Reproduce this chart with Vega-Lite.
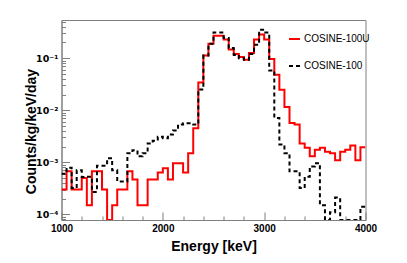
{
  "$schema": "https://vega.github.io/schema/vega-lite/v6.json",
  "width": 304,
  "height": 200,
  "autosize": "none",
  "padding": {"left": 61.5, "top": 20, "right": 41.5, "bottom": 43},
  "background": "white",
  "config": {
    "view": {"stroke": "#808080", "strokeWidth": 1},
    "font": "Liberation Sans"
  },
  "datasets": {
    "h": [
      {"series": "COSINE-100U", "E": 1000, "v": 0.0003},
      {"series": "COSINE-100U", "E": 1050, "v": 0.00067},
      {"series": "COSINE-100U", "E": 1100, "v": 0.0003},
      {"series": "COSINE-100U", "E": 1150, "v": 0.0003},
      {"series": "COSINE-100U", "E": 1200, "v": 0.0005},
      {"series": "COSINE-100U", "E": 1250, "v": 0.00015},
      {"series": "COSINE-100U", "E": 1300, "v": 0.00067},
      {"series": "COSINE-100U", "E": 1350, "v": 0.00067},
      {"series": "COSINE-100U", "E": 1400, "v": 0.0003},
      {"series": "COSINE-100U", "E": 1450, "v": 0.00001},
      {"series": "COSINE-100U", "E": 1500, "v": 0.00015},
      {"series": "COSINE-100U", "E": 1550, "v": 0.0003},
      {"series": "COSINE-100U", "E": 1600, "v": 0.0003},
      {"series": "COSINE-100U", "E": 1650, "v": 0.00067},
      {"series": "COSINE-100U", "E": 1700, "v": 0.00047},
      {"series": "COSINE-100U", "E": 1750, "v": 0.00015},
      {"series": "COSINE-100U", "E": 1800, "v": 0.00015},
      {"series": "COSINE-100U", "E": 1850, "v": 0.00047},
      {"series": "COSINE-100U", "E": 1900, "v": 0.00047},
      {"series": "COSINE-100U", "E": 1950, "v": 0.00064},
      {"series": "COSINE-100U", "E": 2000, "v": 0.00077},
      {"series": "COSINE-100U", "E": 2050, "v": 0.00047},
      {"series": "COSINE-100U", "E": 2100, "v": 0.00096},
      {"series": "COSINE-100U", "E": 2150, "v": 0.00096},
      {"series": "COSINE-100U", "E": 2200, "v": 0.00064},
      {"series": "COSINE-100U", "E": 2250, "v": 0.0015},
      {"series": "COSINE-100U", "E": 2300, "v": 0.0045},
      {"series": "COSINE-100U", "E": 2350, "v": 0.034},
      {"series": "COSINE-100U", "E": 2400, "v": 0.112},
      {"series": "COSINE-100U", "E": 2450, "v": 0.19},
      {"series": "COSINE-100U", "E": 2500, "v": 0.27},
      {"series": "COSINE-100U", "E": 2550, "v": 0.27},
      {"series": "COSINE-100U", "E": 2600, "v": 0.227},
      {"series": "COSINE-100U", "E": 2650, "v": 0.146},
      {"series": "COSINE-100U", "E": 2700, "v": 0.12},
      {"series": "COSINE-100U", "E": 2750, "v": 0.105},
      {"series": "COSINE-100U", "E": 2800, "v": 0.093},
      {"series": "COSINE-100U", "E": 2850, "v": 0.126},
      {"series": "COSINE-100U", "E": 2900, "v": 0.227},
      {"series": "COSINE-100U", "E": 2950, "v": 0.283},
      {"series": "COSINE-100U", "E": 3000, "v": 0.227},
      {"series": "COSINE-100U", "E": 3050, "v": 0.096},
      {"series": "COSINE-100U", "E": 3100, "v": 0.048},
      {"series": "COSINE-100U", "E": 3150, "v": 0.0248},
      {"series": "COSINE-100U", "E": 3200, "v": 0.0115},
      {"series": "COSINE-100U", "E": 3250, "v": 0.0057},
      {"series": "COSINE-100U", "E": 3300, "v": 0.0053},
      {"series": "COSINE-100U", "E": 3350, "v": 0.0023},
      {"series": "COSINE-100U", "E": 3400, "v": 0.0019},
      {"series": "COSINE-100U", "E": 3450, "v": 0.0013},
      {"series": "COSINE-100U", "E": 3500, "v": 0.00174},
      {"series": "COSINE-100U", "E": 3550, "v": 0.0019},
      {"series": "COSINE-100U", "E": 3600, "v": 0.0016},
      {"series": "COSINE-100U", "E": 3650, "v": 0.0015},
      {"series": "COSINE-100U", "E": 3700, "v": 0.0011},
      {"series": "COSINE-100U", "E": 3750, "v": 0.0016},
      {"series": "COSINE-100U", "E": 3800, "v": 0.00174},
      {"series": "COSINE-100U", "E": 3850, "v": 0.0021},
      {"series": "COSINE-100U", "E": 3900, "v": 0.0011},
      {"series": "COSINE-100U", "E": 3950, "v": 0.00195},
      {"series": "COSINE-100U", "E": 4000, "v": 0.00195},
      {"series": "COSINE-100", "E": 1000, "v": 0.0006},
      {"series": "COSINE-100", "E": 1050, "v": 0.00079},
      {"series": "COSINE-100", "E": 1100, "v": 0.00032},
      {"series": "COSINE-100", "E": 1150, "v": 0.0007},
      {"series": "COSINE-100", "E": 1200, "v": 0.00052},
      {"series": "COSINE-100", "E": 1250, "v": 0.00053},
      {"series": "COSINE-100", "E": 1300, "v": 0.00027},
      {"series": "COSINE-100", "E": 1350, "v": 0.00086},
      {"series": "COSINE-100", "E": 1400, "v": 0.00086},
      {"series": "COSINE-100", "E": 1450, "v": 0.0012},
      {"series": "COSINE-100", "E": 1500, "v": 0.0007},
      {"series": "COSINE-100", "E": 1550, "v": 0.00043},
      {"series": "COSINE-100", "E": 1600, "v": 0.00043},
      {"series": "COSINE-100", "E": 1650, "v": 0.0015},
      {"series": "COSINE-100", "E": 1700, "v": 0.0017},
      {"series": "COSINE-100", "E": 1750, "v": 0.0013},
      {"series": "COSINE-100", "E": 1800, "v": 0.0015},
      {"series": "COSINE-100", "E": 1850, "v": 0.0023},
      {"series": "COSINE-100", "E": 1900, "v": 0.0026},
      {"series": "COSINE-100", "E": 1950, "v": 0.0031},
      {"series": "COSINE-100", "E": 2000, "v": 0.0029},
      {"series": "COSINE-100", "E": 2050, "v": 0.0034},
      {"series": "COSINE-100", "E": 2100, "v": 0.0041},
      {"series": "COSINE-100", "E": 2150, "v": 0.0053},
      {"series": "COSINE-100", "E": 2200, "v": 0.0056},
      {"series": "COSINE-100", "E": 2250, "v": 0.0056},
      {"series": "COSINE-100", "E": 2300, "v": 0.0053},
      {"series": "COSINE-100", "E": 2350, "v": 0.025},
      {"series": "COSINE-100", "E": 2400, "v": 0.112},
      {"series": "COSINE-100", "E": 2450, "v": 0.19},
      {"series": "COSINE-100", "E": 2500, "v": 0.31},
      {"series": "COSINE-100", "E": 2550, "v": 0.31},
      {"series": "COSINE-100", "E": 2600, "v": 0.245},
      {"series": "COSINE-100", "E": 2650, "v": 0.157},
      {"series": "COSINE-100", "E": 2700, "v": 0.115},
      {"series": "COSINE-100", "E": 2750, "v": 0.1},
      {"series": "COSINE-100", "E": 2800, "v": 0.093},
      {"series": "COSINE-100", "E": 2850, "v": 0.12},
      {"series": "COSINE-100", "E": 2900, "v": 0.18},
      {"series": "COSINE-100", "E": 2950, "v": 0.35},
      {"series": "COSINE-100", "E": 3000, "v": 0.31},
      {"series": "COSINE-100", "E": 3050, "v": 0.058},
      {"series": "COSINE-100", "E": 3100, "v": 0.0071},
      {"series": "COSINE-100", "E": 3150, "v": 0.0022},
      {"series": "COSINE-100", "E": 3200, "v": 0.0015},
      {"series": "COSINE-100", "E": 3250, "v": 0.00067},
      {"series": "COSINE-100", "E": 3300, "v": 0.00067},
      {"series": "COSINE-100", "E": 3350, "v": 0.00032},
      {"series": "COSINE-100", "E": 3400, "v": 0.00053},
      {"series": "COSINE-100", "E": 3450, "v": 0.00083},
      {"series": "COSINE-100", "E": 3500, "v": 0.00096},
      {"series": "COSINE-100", "E": 3550, "v": 0.00015},
      {"series": "COSINE-100", "E": 3600, "v": 0.00001},
      {"series": "COSINE-100", "E": 3650, "v": 0.00011},
      {"series": "COSINE-100", "E": 3700, "v": 0.00021},
      {"series": "COSINE-100", "E": 3750, "v": 0.00001},
      {"series": "COSINE-100", "E": 3800, "v": 0.00001},
      {"series": "COSINE-100", "E": 3850, "v": 0.00001},
      {"series": "COSINE-100", "E": 3900, "v": 0.00001},
      {"series": "COSINE-100", "E": 3950, "v": 0.00014},
      {"series": "COSINE-100", "E": 4000, "v": 0.00014}
    ]
  },
  "data": {"name": "h"},
  "mark": {"type": "line", "interpolate": "step-after", "strokeWidth": 2, "clip": true},
  "encoding": {
    "x": {
      "field": "E",
      "type": "quantitative",
      "scale": {"domain": [1000, 4000], "nice": false, "zero": false},
      "axis": {
        "values": [1000, 1200, 1400, 1600, 1800, 2000, 2200, 2400, 2600, 2800, 3000, 3200, 3400, 3600, 3800, 4000],
        "format": "d",
        "labelExpr": "datum.value % 1000 == 0 ? datum.label : ''",
        "labelOverlap": false,
        "labelFlush": false,
        "labelFont": "Liberation Sans",
        "labelFontSize": 10,
        "labelFontWeight": "bold",
        "labelColor": "black",
        "labelPadding": 11,
        "tickSize": {"condition": {"test": "datum.value % 1000 == 0", "value": -8}, "value": -4},
        "tickColor": "#808080",
        "domainColor": "#808080",
        "grid": false,
        "title": "Energy [keV]",
        "titleFont": "Liberation Sans",
        "titleFontSize": 14,
        "titleFontWeight": "bold",
        "titleColor": "black",
        "titleBaseline": "alphabetic",
        "titleY": 30
      }
    },
    "y": {
      "field": "v",
      "type": "quantitative",
      "scale": {"type": "log", "domain": [0.000078, 0.54], "nice": false, "clamp": true},
      "axis": {
        "values": [0.00008, 0.00009, 0.0001, 0.0002, 0.0003, 0.0004, 0.0005, 0.0006, 0.0007, 0.0008, 0.0009, 0.001, 0.002, 0.003, 0.004, 0.005, 0.006, 0.007, 0.008, 0.009, 0.01, 0.02, 0.03, 0.04, 0.05, 0.06, 0.07, 0.08, 0.09, 0.1, 0.2, 0.3, 0.4, 0.5],
        "labelExpr": "datum.value == 0.0001 ? '10⁻⁴' : datum.value == 0.001 ? '10⁻³' : datum.value == 0.01 ? '10⁻²' : datum.value == 0.1 ? '10⁻¹' : ''",
        "labelOverlap": false,
        "labelFlush": false,
        "labelFont": "DejaVu Sans",
        "labelFontSize": 9.5,
        "labelFontWeight": "bold",
        "labelColor": "black",
        "labelPadding": 11.5,
        "tickSize": {"condition": {"test": "indexof([0.0001, 0.001, 0.01, 0.1], datum.value) >= 0", "value": -8}, "value": -4},
        "tickColor": "#808080",
        "domainColor": "#808080",
        "grid": false,
        "title": "Counts/kg/keV/day",
        "titleFont": "Liberation Sans",
        "titleFontSize": 14,
        "titleFontWeight": "bold",
        "titleColor": "black",
        "titleBaseline": "alphabetic",
        "titleAngle": -90,
        "titleX": -26.5,
        "titleY": 111
      }
    },
    "color": {
      "field": "series",
      "type": "nominal",
      "scale": {"domain": ["COSINE-100U", "COSINE-100"], "range": ["#ff0000", "#000000"]},
      "legend": {
        "title": null,
        "orient": "none",
        "legendX": 226.5,
        "legendY": 12.5,
        "symbolType": "stroke",
        "symbolSize": 121,
        "symbolStrokeWidth": 2,
        "labelFont": "Liberation Sans",
        "labelFontSize": 10,
        "labelColor": "black",
        "labelOffset": 3,
        "rowPadding": 15
      }
    },
    "strokeDash": {
      "field": "series",
      "type": "nominal",
      "scale": {"domain": ["COSINE-100U", "COSINE-100"], "range": [[1, 0], [4, 3]]},
      "legend": {
        "title": null,
        "orient": "none",
        "legendX": 226.5,
        "legendY": 12.5,
        "symbolType": "stroke",
        "symbolSize": 121,
        "symbolStrokeWidth": 2,
        "labelFont": "Liberation Sans",
        "labelFontSize": 10,
        "labelColor": "black",
        "labelOffset": 3,
        "rowPadding": 15
      }
    }
  }
}
